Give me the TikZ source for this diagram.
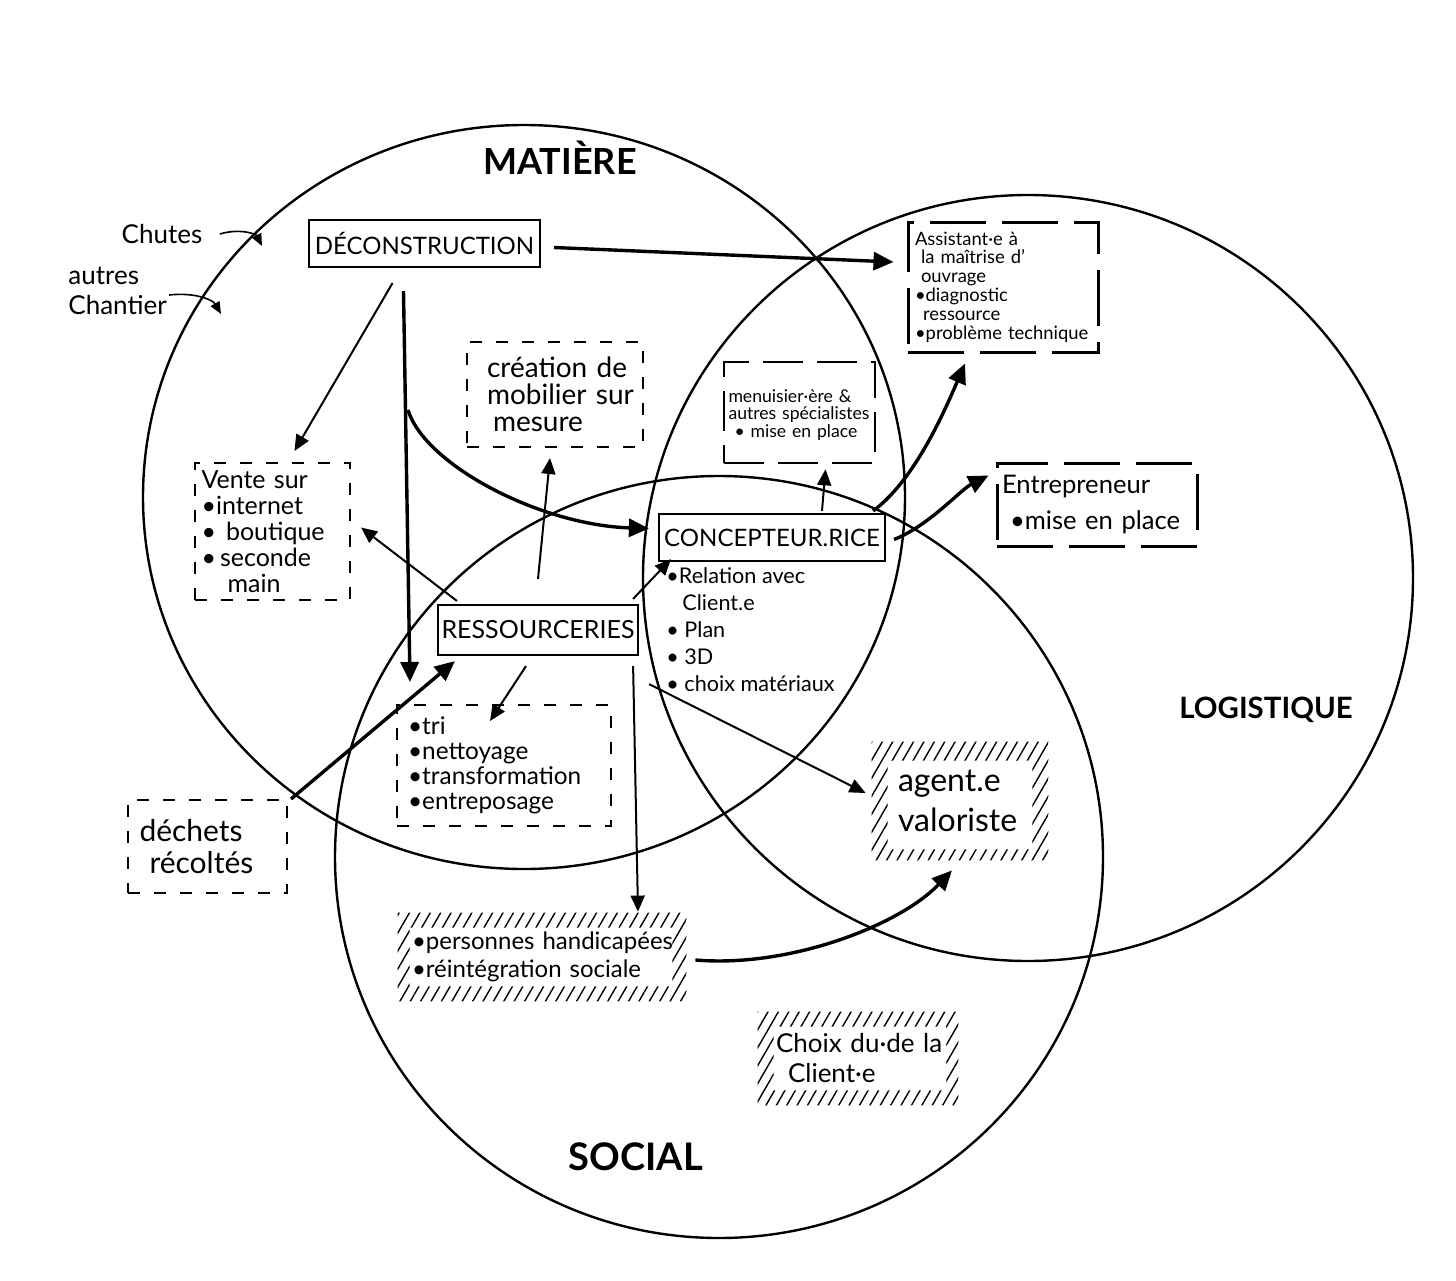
\documentclass[tikz,border=0pt]{standalone}
\usepackage{fontspec}
\setmainfont{Lato}
\usetikzlibrary{arrows.meta,patterns.meta,calc}
\begin{document}
\begin{tikzpicture}[x=0.5pt,y=-0.5pt,
  circ/.style={line width=1.2pt},
  solidbox/.style={draw,line width=1.1pt,fill=white,inner sep=0pt},
  shortdash/.style={draw,line width=1pt,dash pattern=on 6pt off 7pt,fill=white,inner sep=0pt},
  longdash/.style={draw,line width=1.5pt,dash pattern=on 28pt off 8pt,fill=white,inner sep=0pt},
  meddash/.style={draw,line width=1.3pt,dash pattern=on 20pt off 7pt,fill=white,inner sep=0pt},
  hatchbox/.style={inner sep=0pt},
  plain/.style={inner sep=0pt},
  arr/.style={line width=1pt,-{Triangle[length=8pt,width=7pt]}},
  thinarr/.style={line width=0.8pt,-{Triangle[length=6pt,width=5pt]}},
  thickarr/.style={line width=1.7pt,-{Triangle[length=10pt,width=9pt]}},
  title/.style={font=\bfseries},
  hatch/.style={pattern={Lines[angle=60,distance=4.5pt,line width=0.7pt]}}
]
\useasboundingbox (0,0) rectangle (1456,1280);

% circles
\draw[circ] (524,497) ellipse [x radius=381, y radius=372];
\draw[circ] (1028,578) ellipse [x radius=385, y radius=383];
\draw[circ] (719,857) ellipse [x radius=384, y radius=381];

% titles
\node[title,font=\fontsize{18}{20}\selectfont\bfseries] (matiere) at (560,158) {MATIÈRE};
\node[title,font=\fontsize{14.7}{17}\selectfont\bfseries] (logistique) at (1266,710) {LOGISTIQUE};
\node[title,font=\fontsize{19}{21}\selectfont\bfseries] (social) at (636,1157) {SOCIAL};

% side texts
\node[plain,font=\fontsize{13}{15}\selectfont] (chutes) at (162,234) {Chutes};
\node[plain,anchor=west,align=left,font=\fontsize{13}{15}\selectfont] (autres) at (68,291) {autres\\Chantier};
\coordinate (chutesend) at (262,246);
\coordinate (autresend) at (221,314);

% boxes
\node[solidbox,minimum width=115.5pt,minimum height=23.5pt,font=\fontsize{12}{14}\selectfont] (deco) at (424.5,243.5) {DÉCONSTRUCTION};

\node[longdash,minimum width=95pt,minimum height=65pt,text width=88pt,align=left,font=\fontsize{9.2}{9.4}\selectfont] (assist) at (1003,287)
 {Assistant·e à\\\hspace*{3pt}la maîtrise d'\\\hspace*{3pt}ouvrage\\•diagnostic\\\hspace*{4pt}ressource\\•problème technique};

\node[meddash,minimum width=75.5pt,minimum height=50.5pt,text width=71pt,align=left,font=\fontsize{8.8}{8.8}\selectfont] (menu) at (799.5,412.5)
 {\\menuisier·ère \&\\autres spécialistes\\\hspace*{3pt}• mise en place};

\node[longdash,minimum width=100pt,minimum height=41.5pt,text width=95pt,align=left,font=\fontsize{12.8}{18}\selectfont] (entre) at (1097,504.5)
 {Entrepreneur\\\hspace*{4pt}•mise en place};

\node[shortdash,minimum width=88pt,minimum height=52.5pt,text width=80pt,align=left,font=\fontsize{14}{13.5}\selectfont] (creation) at (555,394.5)
 {\hspace*{6pt}création de\\\hspace*{6pt}mobilier sur\\\hspace*{9pt}mesure};

\node[shortdash,minimum width=77.5pt,minimum height=68.5pt,text width=71pt,align=left,font=\fontsize{12.5}{13}\selectfont] (vente) at (272.5,531.5)
 {Vente sur\\•internet\\•\hspace*{5pt}boutique\\•\hspace*{2pt}seconde\\\hspace*{13pt}main};

\node[solidbox,minimum width=113pt,minimum height=23.5pt,font=\fontsize{12}{14}\selectfont] (conc) at (772,537.5) {CONCEPTEUR.RICE};

\node[plain,anchor=north west,align=left,font=\fontsize{10.8}{13.5}\selectfont] (conclist) at (666,567)
 {•Relation avec\\\hspace*{8pt}Client.e\\• Plan\\• 3D\\• choix matériaux};

\node[solidbox,minimum width=100pt,minimum height=25pt,font=\fontsize{12.5}{14}\selectfont] (res) at (538,630) {RESSOURCERIES};

\node[shortdash,minimum width=107pt,minimum height=60.5pt,text width=96pt,align=left,font=\fontsize{12.2}{12.6}\selectfont] (tri) at (504,765.5)
 {•tri\\•nettoyage\\•transformation\\•entreposage};

\node[shortdash,minimum width=79.5pt,minimum height=46.5pt,text width=68pt,align=left,font=\fontsize{15}{16}\selectfont] (dechets) at (207.5,846.5)
 {déchets\\\hspace*{5pt}récoltés};

\node[hatchbox,minimum width=88pt,minimum height=59pt,text width=62pt,align=left,font=\fontsize{16}{20}\selectfont] (agent) at (960,801)
 {agent.e\\valoriste};

\node[hatchbox,minimum width=144pt,minimum height=44pt,text width=138pt,align=left,font=\fontsize{12}{14}\selectfont] (pers) at (542,957)
 {\hspace*{4pt}•personnes handicapées\\\hspace*{4pt}•réintégration sociale};

\node[hatchbox,minimum width=100pt,minimum height=46.5pt,text width=94pt,align=left,font=\fontsize{13}{15}\selectfont] (choix) at (858,1058.5)
 {\hspace*{6pt}Choix du·de la\\\hspace*{12pt}Client·e};

% hatched borders
\fill[hatch,even odd rule] (agent.north west) rectangle (agent.south east)
     ($(agent.north west)+(16,19)$) rectangle ($(agent.south east)+(-16,-11)$);
\fill[hatch,even odd rule] (pers.north west) rectangle (pers.south east)
     ($(pers.north west)+(12,15)$) rectangle ($(pers.south east)+(-14,-15)$);
\fill[hatch,even odd rule] (choix.north west) rectangle (choix.south east)
     ($(choix.north west)+(16,15)$) rectangle ($(choix.south east)+(-12,-15)$);

% side arrows
\draw[thinarr] ($(chutes.east)+(17,0)$) .. controls (240,228) and (256,234) .. (chutesend);
\draw[thinarr] ($(autres.east)+(2,4)$) .. controls (195,292) and (213,300) .. (autresend);

% connectors
\draw[thickarr] ($(deco.east)+(13,4)$) -- ($(assist.west)+(-13,-25)$);
\draw[arr] ($(deco.south)+(-32,15)$) -- ($(vente.north)+(22,-11)$);
\coordinate (downend) at (410,682);
\draw[thickarr] ($(deco.south)+(-21,23)$) -- (downend);
\coordinate (curvestart) at (408,410);
\draw[thickarr] (curvestart) .. controls (425,465) and (540,525) .. ($(conc.west)+(-9,-9)$);
\draw[arr] ($(res.north west)+(20,-3)$) -- ($(vente.east)+(10,-4)$);
\draw[arr] ($(res.north)+(0,-25)$) -- ($(creation.south)+(-5,10)$);
\draw[arr] ($(res.north east)+(-6,-5)$) -- ($(conc.south west)+(13,-3)$);
\draw[arr] ($(res.south)+(-12,10)$) -- ($(tri.north)+(-14,17)$);
\draw[arr] ($(res.south east)+(-6,10)$) -- ($(pers.north)+(96,-1)$);
\draw[arr] ($(res.south east)+(10,28)$) -- ($(agent.west)+(-6,-8)$);
\draw[thickarr] ($(dechets.north east)+(3,0)$) -- ($(res.south west)+(18,5)$);
\draw[arr] ($(conc.north)+(50,-2)$) -- ($(menu.south)+(26,5)$);
\draw[thickarr] ($(conc.north east)+(-13,-2)$) .. controls (915,480) and (945,410) .. ($(assist.south)+(-38,10)$);
\draw[thickarr] ($(conc.east)+(8,2)$) .. controls (930,525) and (960,490) .. ($(entre.west)+(-7,-29)$);
\draw[thickarr] ($(pers.east)+(9,3)$) .. controls (790,968) and (900,925) .. ($(agent.south)+(-8,10)$);
\end{tikzpicture}
\end{document}
